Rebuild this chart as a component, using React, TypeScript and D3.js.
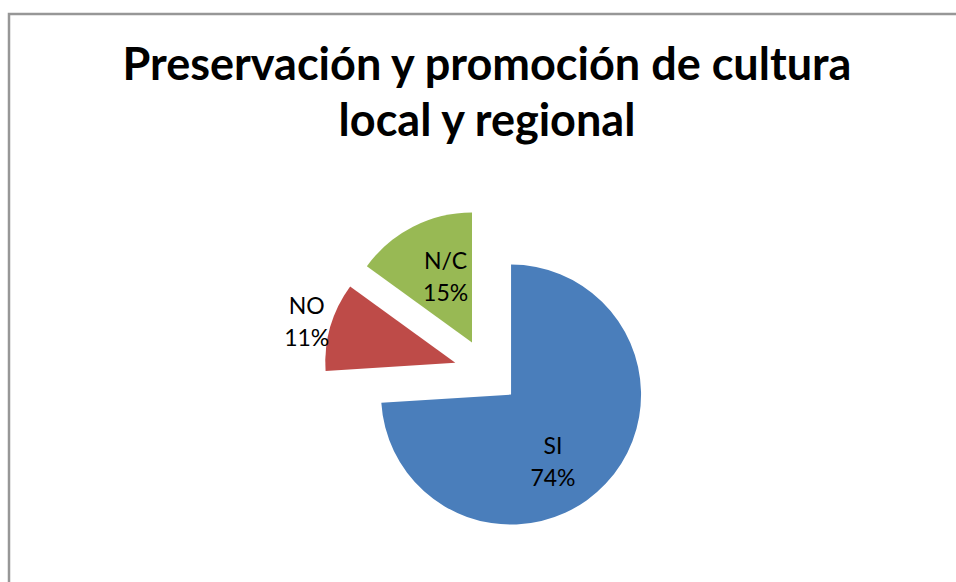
import { useRef, useEffect } from 'react';
import * as d3 from 'd3';

const categories = ['SI', 'NO', 'N/C'];
const values = [74, 11, 15];
const colors = ['#4A7EBB', '#BE4B48', '#98B954'];
const titleLines = ['Preservación y promoción de cultura', 'local y regional'];

const WIDTH = 956;
const HEIGHT = 582;

export default function App() {
  const ref = useRef<SVGSVGElement>(null);

  useEffect(() => {
    const svg = d3.select(ref.current);
    svg.selectAll('*').remove();

    // chart frame (only the top and left edges show in the crop)
    svg.append('path')
      .attr('d', `M9,${HEIGHT} V14 H${WIDTH}`)
      .attr('fill', 'none')
      .attr('stroke', '#979797')
      .attr('stroke-width', 2.5);

    const font = 'Lato, "Open Sans", sans-serif';

    // title, scaled so the first line spans its width in the reference
    const title = svg.append('g');
    const t1 = title.append('text')
      .attr('x', 487)
      .attr('y', 80)
      .attr('text-anchor', 'middle')
      .style('font-family', font)
      .style('font-weight', 'bold')
      .style('font-size', '40px')
      .attr('fill', '#000')
      .text(titleLines[0]);
    const w = (t1.node() as SVGTextElement).getComputedTextLength();
    const size = 40 * 729 / w;
    t1.style('font-size', `${size}px`);
    title.append('text')
      .attr('x', 487)
      .attr('y', 136)
      .attr('text-anchor', 'middle')
      .style('font-family', font)
      .style('font-weight', 'bold')
      .style('font-size', `${size}px`)
      .attr('fill', '#000')
      .text(titleLines[1]);

    const data = categories.map((c, i) => ({ label: c, value: values[i], color: colors[i] }));
    const total = d3.sum(values);
    const pie = d3.pie<typeof data[0]>().value(d => d.value).sort(null);
    const arcs = pie(data);

    const radius = 130;
    const explode = 33;
    const cx = 487;
    const cy = 372;
    const arc = d3.arc<d3.PieArcDatum<typeof data[0]>>().innerRadius(0).outerRadius(radius);

    const g = svg.append('g').attr('transform', `translate(${cx},${cy})`);

    const offset = (d: d3.PieArcDatum<typeof data[0]>) => {
      const a = (d.startAngle + d.endAngle) / 2;
      return [Math.sin(a) * explode, -Math.cos(a) * explode];
    };

    g.selectAll('path.slice')
      .data(arcs)
      .join('path')
      .attr('class', 'slice')
      .attr('transform', d => `translate(${offset(d)})`)
      .attr('d', arc)
      .attr('fill', d => d.data.color);

    // Excel "best fit" label placement: small slices go outside, others inside
    const labelPlace: Record<string, { r: number; da: number }> = {
      'SI': { r: 0.6, da: 0.25 },
      'NO': { r: 1.19, da: 0 },
      'N/C': { r: 0.56, da: 0.1 },
    };

    const labels = g.selectAll('g.label')
      .data(arcs)
      .join('g')
      .attr('class', 'label')
      .attr('transform', d => {
        const [ox, oy] = offset(d);
        const p = labelPlace[d.data.label];
        const a = (d.startAngle + d.endAngle) / 2 + p.da;
        const lr = radius * p.r;
        return `translate(${ox + Math.sin(a) * lr},${oy - Math.cos(a) * lr})`;
      });

    labels.append('text')
      .attr('text-anchor', 'middle')
      .attr('y', -6)
      .style('font-family', font)
      .style('font-size', '23px')
      .attr('fill', '#000')
      .text(d => d.data.label);

    labels.append('text')
      .attr('text-anchor', 'middle')
      .attr('y', 26)
      .style('font-family', font)
      .style('font-size', '23px')
      .attr('fill', '#000')
      .text(d => `${Math.round(d.data.value / total * 100)}%`);
  }, []);

  return (
    <div style={{ position: 'absolute', left: 0, top: 0, width: WIDTH, height: HEIGHT, background: '#fff', overflow: 'hidden' }}>
      <svg ref={ref} width={WIDTH} height={HEIGHT} style={{ display: 'block' }} />
    </div>
  );
}
